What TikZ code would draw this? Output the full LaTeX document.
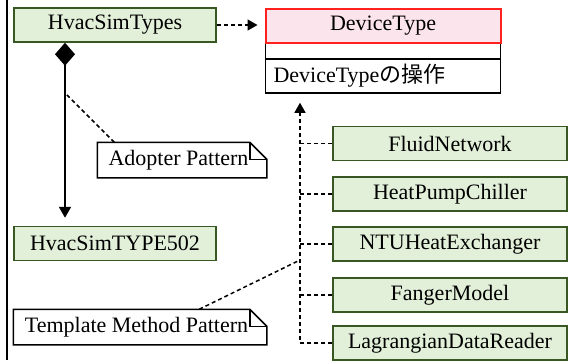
\documentclass[tikz,border=0pt]{standalone}
\usepackage{fontspec}
\setmainfont{Liberation Serif}
\newfontfamily\cjk{Noto Sans CJK JP}
\usetikzlibrary{arrows.meta, positioning, calc}
\definecolor{cgreen}{HTML}{E2F0D9}
\definecolor{cgreenline}{HTML}{385723}
\definecolor{cpink}{HTML}{FCE4EC}
\definecolor{cred}{HTML}{FF2020}
\tikzset{
  every picture/.style={line width=1.5pt},
  cls/.style={draw=cgreenline, fill=cgreen, minimum width=#1, minimum height=34pt, inner sep=0pt},
  cls/.default=234pt,
  iface/.style={draw=cred, fill=cpink, line width=2pt, minimum width=235pt, minimum height=34pt, inner sep=0pt},
  compart/.style={draw=black, fill=white, minimum width=235pt, inner sep=0pt},
  notebox/.style={minimum height=34pt, inner sep=0pt},
  dashline/.style={dash pattern=on 4pt off 3pt, line width=1.5pt},
  dasharrow/.style={dashline, -{Triangle[length=10pt, width=11pt]}},
  compose/.style={line width=2pt, {Diamond[length=23pt, width=20pt]}-{Triangle[length=11pt, width=12pt]}},
}
\newcommand{\foldnote}[1]{%
  \draw ([xshift=-17pt]#1.north east) -- (#1.north west) -- (#1.south west)
    -- (#1.south east) -- ([yshift=-17pt]#1.north east) -- cycle;
  \draw ([xshift=-17pt]#1.north east) |- ([yshift=-17pt]#1.north east);}

\begin{document}
\begin{tikzpicture}[x=1pt, y=-1pt, every node/.append style={font=\fontsize{22pt}{26pt}\selectfont}]
  \useasboundingbox (0,0) rectangle (568,360);
  \draw[line width=2.5pt] (7.2,0) -- (7.2,360);
  % left side
  \node[cls=202pt] (types) at (115,25) {HvacSimTypes};
  \node[cls=202pt] (type502) at (115,243.5) {HvacSimTYPE502};
  % DeviceType
  \node[compart, minimum height=16pt] (dtattr) at (383,51) {};
  \node[compart, minimum height=34pt, text width=219pt, align=left] (dtops) at (383,76) {DeviceType{\cjk の操作}};
  \node[iface] (dt) at (383,26) {DeviceType};
  % implementations
  \node[cls] (fluid) at (450,143.5) {FluidNetwork};
  \node[cls] (chiller) at (450,194) {HeatPumpChiller};
  \node[cls] (ntu) at (450,244) {NTUHeatExchanger};
  \node[cls] (fanger) at (450,295) {FangerModel};
  \node[cls] (lagr) at (450,343) {LagrangianDataReader};
  % notes
  \node[notebox, minimum width=168pt] (adopter) at (182,160) {\kern-7pt Adopter Pattern};
  \node[notebox, minimum width=252pt] (tmpl) at (140,327) {\kern-7pt Template Method Pattern};
  \foldnote{adopter}
  \foldnote{tmpl}
  % connectors
  \draw[dasharrow, shorten >=7pt] (types.east) -- (types.east -| dt.west);
  \draw[compose, shorten >=8pt] ([xshift=-50pt]types.south) -- ([xshift=-50pt]type502.north);
  \coordinate (adoptpt) at (65,93);
  \draw[dashline] ([xshift=17pt]adopter.north west) -- (adoptpt);
  \coordinate (bus) at (300,0);
  \draw[dasharrow, shorten >=9pt] (lagr.west) -| (dtops.south -| bus);
  \foreach \n in {fluid, chiller, ntu, fanger}
    \draw[dashline] (\n.west) -- (\n.west -| bus);
  \coordinate (tmplpt) at (300,260);
  \draw[dashline] ([xshift=186pt]tmpl.north west) -- (tmplpt);
\end{tikzpicture}
\end{document}
